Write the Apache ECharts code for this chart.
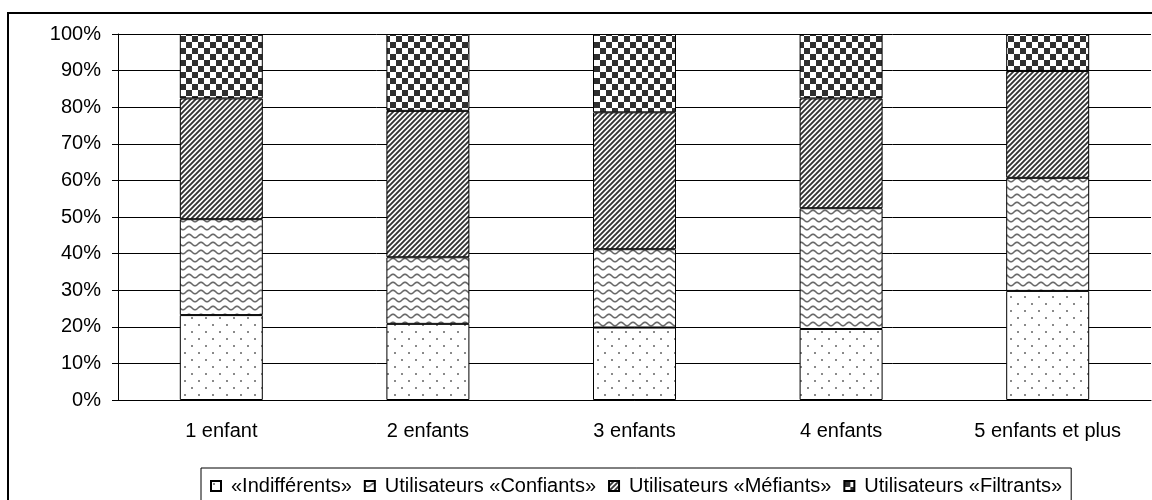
<!DOCTYPE html>
<html>
<head>
<meta charset="utf-8">
<script src="https://cdn.jsdelivr.net/npm/echarts@6/dist/echarts.min.js"></script>
<style>
  html, body { margin: 0; padding: 0; background: #fff; }
  #main { width: 1152px; height: 500px; }
</style>
</head>
<body>
<div id="main"></div>
<script>
// catégories et parts (%)
var categories = ['1 enfant', '2 enfants', '3 enfants', '4 enfants', '5 enfants et plus'];
var indifferents = [23.2, 20.8, 19.8, 19.4, 29.8];
var confiants = [26.2, 18.2, 21.4, 33.0, 30.9];
var mefiants = [33.0, 40.0, 37.4, 30.0, 29.2];
var filtrants = [17.6, 21.0, 21.4, 17.6, 10.1];
var seriesNames = ['«Indifférents»', 'Utilisateurs «Confiants»', 'Utilisateurs «Méfiants»', 'Utilisateurs «Filtrants»'];

var FONT = '"Liberation Sans", Arial, sans-serif';

function tile(w, h, draw) {
    var c = document.createElement('canvas');
    c.width = w;
    c.height = h;
    var ctx = c.getContext('2d');
    ctx.fillStyle = '#fff';
    ctx.fillRect(0, 0, w, h);
    draw(ctx);
    return { image: c, repeat: 'repeat' };
}

// points gris
var dots = tile(14, 14, function (ctx) {
    ctx.fillStyle = '#8a8a8a';
    ctx.fillRect(2, 2, 2, 2);
    ctx.fillRect(9, 9, 2, 2);
});
// vagues
var waves = tile(12, 8, function (ctx) {
    ctx.strokeStyle = '#6a6a6a';
    ctx.lineWidth = 1.6;
    ctx.beginPath();
    for (var x = -1; x <= 13; x += 0.5) {
        var y = 4 + 1.7 * Math.sin(2 * Math.PI * x / 12);
        if (x === -1) ctx.moveTo(x, y); else ctx.lineTo(x, y);
    }
    ctx.stroke();
});
// diagonales
var diag = tile(5, 5, function (ctx) {
    ctx.strokeStyle = '#333';
    ctx.lineWidth = 1.9;
    ctx.beginPath();
    ctx.moveTo(-1, 6); ctx.lineTo(6, -1);
    ctx.moveTo(-4, 4); ctx.lineTo(4, -4);
    ctx.moveTo(1, 9); ctx.lineTo(9, 1);
    ctx.stroke();
});
// damier
var checker = tile(12, 12, function (ctx) {
    ctx.fillStyle = '#303030';
    ctx.fillRect(0, 0, 6, 6);
    ctx.fillRect(6, 6, 6, 6);
});

var patterns = [dots, waves, diag, checker];
var values = [indifferents, confiants, mefiants, filtrants];

var myChart = echarts.init(document.getElementById('main'));

var series = values.map(function (v, i) {
    return {
        name: seriesNames[i],
        type: 'bar',
        stack: 'total',
        barWidth: 83,
        data: v,
        itemStyle: { color: patterns[i], borderColor: '#000', borderWidth: 1 },
        emphasis: { disabled: true }
    };
});

var option = {
    animation: false,
    backgroundColor: '#fff',
    textStyle: { fontFamily: FONT },
    graphic: [{
        type: 'rect',
        shape: { x: 8, y: 13, width: 1160, height: 510 },
        style: { fill: 'none', stroke: '#000', lineWidth: 2 },
        silent: true
    }],
    grid: { left: 118, top: 34, right: 1, bottom: 100 },
    legend: {
        left: 201,
        top: 468,
        padding: [8, 9, 8, 9],
        borderColor: '#000',
        borderWidth: 1,
        itemWidth: 10,
        itemHeight: 10,
        itemGap: 12,
        icon: 'rect',
        textStyle: { fontFamily: FONT, fontSize: 20, color: '#000', padding: [0, 0, 0, 5] },
        data: seriesNames
    },
    xAxis: {
        type: 'category',
        data: categories,
        axisLine: { lineStyle: { color: '#000', width: 1 } },
        axisTick: { length: 6, lineStyle: { color: '#000' } },
        axisLabel: { color: '#000', fontSize: 20, fontFamily: FONT, margin: 21 }
    },
    yAxis: {
        type: 'value',
        min: 0,
        max: 100,
        interval: 10,
        axisLine: { show: true, lineStyle: { color: '#000', width: 1 } },
        axisTick: { show: true, length: 6, lineStyle: { color: '#000' } },
        axisLabel: { color: '#000', fontSize: 20, fontFamily: FONT, margin: 17, formatter: '{value}%' },
        splitLine: { lineStyle: { color: '#000', width: 1 } }
    },
    series: series
};
myChart.setOption(option);
</script>
</body>
</html>
